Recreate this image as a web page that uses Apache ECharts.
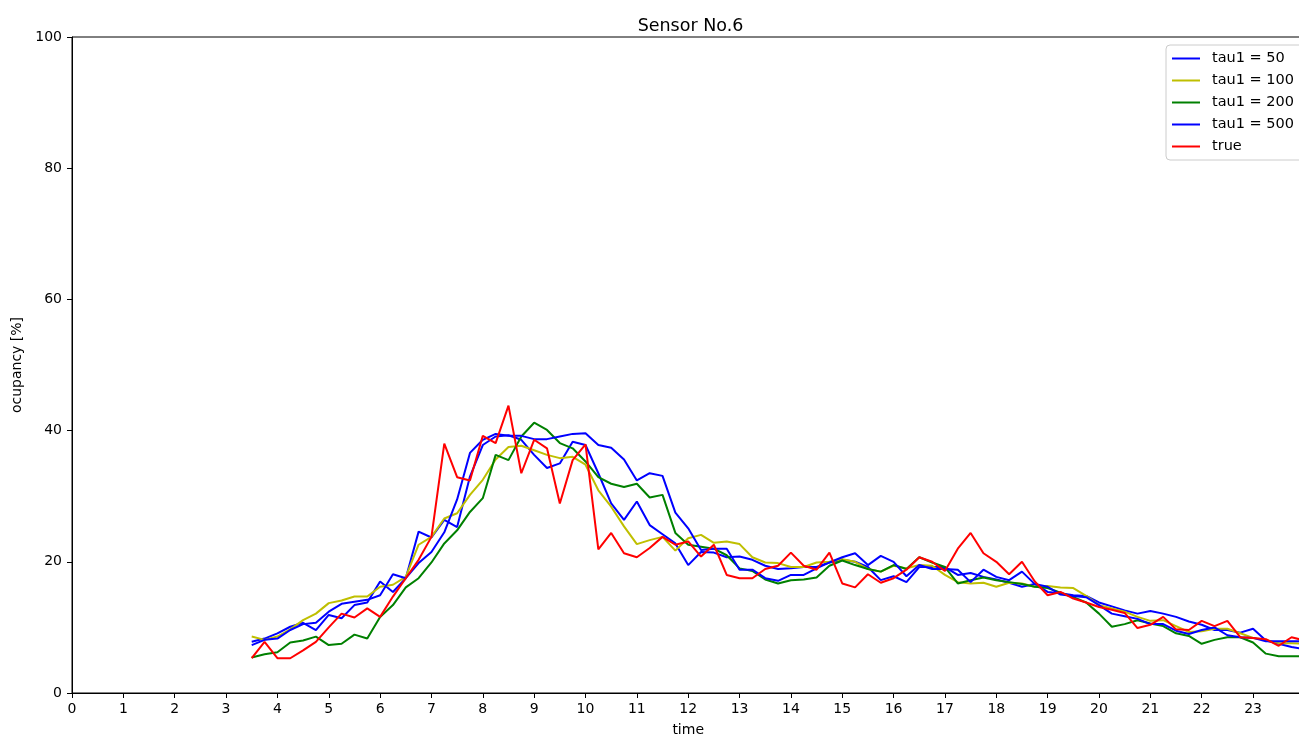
<!DOCTYPE html>
<html>
<head>
<meta charset="utf-8">
<script src="https://cdn.jsdelivr.net/npm/echarts@6/dist/echarts.min.js"></script>
<style>
html,body{margin:0;padding:0;background:#fff;}
#chart{width:1299px;height:735px;}
</style>
</head>
<body>
<div id="chart"></div>
<script>
// time of day (hours), 15-minute steps
const times = [
  3.5, 3.75,
  4, 4.25, 4.5, 4.75,
  5, 5.25, 5.5, 5.75,
  6, 6.25, 6.5, 6.75,
  7, 7.25, 7.5, 7.75,
  8, 8.25, 8.5, 8.75,
  9, 9.25, 9.5, 9.75,
  10, 10.25, 10.5, 10.75,
  11, 11.25, 11.5, 11.75,
  12, 12.25, 12.5, 12.75,
  13, 13.25, 13.5, 13.75,
  14, 14.25, 14.5, 14.75,
  15, 15.25, 15.5, 15.75,
  16, 16.25, 16.5, 16.75,
  17, 17.25, 17.5, 17.75,
  18, 18.25, 18.5, 18.75,
  19, 19.25, 19.5, 19.75,
  20, 20.25, 20.5, 20.75,
  21, 21.25, 21.5, 21.75,
  22, 22.25, 22.5, 22.75,
  23, 23.25, 23.5, 23.75,
  24
];

const tau50 = [
  7.8, 8.3,
  9.1, 10.1, 10.7, 9.6,
  11.9, 11.4, 13.4, 13.8,
  17.0, 15.4, 17.5, 24.6,
  23.7, 26.4, 25.3, 33.0,
  37.8, 39.1, 39.3, 38.6,
  36.3, 34.3, 35.0, 38.3,
  37.8, 33.5, 28.9, 26.4,
  29.2, 25.6, 24.2, 22.8,
  19.5, 21.5, 21.4, 20.7,
  20.8, 20.3, 19.4, 18.9,
  19.0, 19.2, 19.2, 19.9,
  20.3, 20.0, 19.2, 17.2,
  17.8, 16.9, 19.2, 19.2,
  19.2, 18.0, 18.3, 17.7,
  17.3, 16.8, 16.2, 16.6,
  15.4, 15.2, 14.9, 14.8,
  13.8, 13.2, 12.6, 12.1,
  12.5, 12.1, 11.6, 10.9,
  10.4, 9.6, 9.6, 9.2,
  9.8, 8.0, 7.5, 7.0,
  6.7
];

const tau100 = [
  8.6, 8.1,
  8.6, 9.7, 11.1, 12.1,
  13.7, 14.1, 14.7, 14.7,
  16.2, 16.5, 17.7, 22.6,
  23.8, 26.6, 27.4, 30.2,
  32.5, 35.6, 37.5, 37.7,
  37.0, 36.3, 35.8, 36.0,
  34.8, 30.9, 28.4, 25.4,
  22.7, 23.3, 23.8, 21.7,
  23.6, 24.1, 22.9, 23.1,
  22.7, 20.7, 19.9, 19.8,
  19.2, 19.2, 19.9, 20.0,
  20.4, 20.0, 18.9, 18.5,
  19.4, 19.0, 19.5, 19.4,
  18.0, 16.9, 16.7, 16.8,
  16.2, 16.8, 16.7, 16.2,
  16.3, 16.1, 16.0, 14.8,
  13.4, 12.9, 12.4, 11.6,
  11.0, 11.1, 10.2, 9.3,
  9.4, 9.8, 9.8, 9.1,
  8.4, 8.1, 7.6, 7.6,
  7.5
];

const tau200 = [
  5.4, 5.9,
  6.2, 7.7, 8.0, 8.6,
  7.3, 7.5, 8.9, 8.3,
  11.6, 13.4, 16.1, 17.5,
  19.9, 22.8, 24.8, 27.6,
  29.7, 36.3, 35.5, 39.1,
  41.2, 40.1, 38.1, 37.3,
  35.3, 32.9, 31.9, 31.4,
  31.9, 29.8, 30.2, 24.4,
  22.6, 22.3, 22.0, 21.0,
  19.0, 18.6, 17.3, 16.7,
  17.2, 17.3, 17.6, 19.4,
  20.2, 19.5, 18.9, 18.5,
  19.5, 18.9, 20.7, 19.9,
  19.2, 16.7, 17.2, 17.6,
  17.2, 16.9, 16.6, 16.2,
  16.0, 15.3, 14.6, 13.8,
  12.1, 10.1, 10.5, 11.1,
  10.6, 10.2, 9.1, 8.7,
  7.5, 8.1, 8.5, 8.5,
  7.7, 6.0, 5.6, 5.6,
  5.6
];

const tau500 = [
  7.3, 8.1,
  8.3, 9.6, 10.5, 10.7,
  12.4, 13.6, 13.9, 14.2,
  14.9, 18.1, 17.5, 19.8,
  21.5, 24.5, 29.5, 36.6,
  38.6, 39.5, 39.2, 39.2,
  38.7, 38.7, 39.1, 39.5,
  39.6, 37.8, 37.4, 35.6,
  32.4, 33.5, 33.1, 27.5,
  25.1, 21.8, 22.0, 22.0,
  18.8, 18.8, 17.5, 17.1,
  18.0, 18.0, 19.0, 19.9,
  20.7, 21.3, 19.5, 20.9,
  20.0, 17.8, 19.5, 18.9,
  18.9, 18.8, 16.9, 18.8,
  17.7, 17.2, 18.5, 16.6,
  16.2, 15.0, 14.8, 14.6,
  13.4, 12.1, 11.7, 11.3,
  10.5, 10.5, 9.5, 9.0,
  9.6, 10.0, 8.8, 8.5,
  8.4, 7.9, 7.9, 7.9,
  7.9
];

const trueVals = [
  5.3, 7.8,
  5.3, 5.3, 6.5, 7.8,
  10.0, 12.1, 11.5, 12.9,
  11.6, 14.7, 17.5, 20.3,
  23.8, 38.0, 32.9, 32.4,
  39.2, 38.1, 43.8, 33.5,
  38.6, 37.3, 28.9, 35.5,
  37.9, 21.9, 24.4, 21.3,
  20.7, 22.1, 23.8, 22.6,
  23.1, 20.8, 22.6, 18.0,
  17.5, 17.5, 18.9, 19.4,
  21.4, 19.4, 18.8, 21.4,
  16.7, 16.1, 18.1, 16.8,
  17.5, 18.8, 20.7, 20.0,
  18.6, 22.0, 24.4, 21.3,
  20.0, 18.1, 20.0, 17.0,
  14.9, 15.4, 14.4, 13.8,
  13.1, 12.7, 12.2, 9.9,
  10.4, 11.6, 9.7, 9.6,
  11.0, 10.2, 11.0, 8.5,
  8.4, 8.2, 7.2, 8.5,
  8.0
];

const seriesNames = ['tau1 = 50', 'tau1 = 100', 'tau1 = 200', 'tau1 = 500', 'true'];
const seriesColors = ['#0000ff', '#bfbf00', '#008000', '#0000ff', '#ff0000'];
const seriesValues = [tau50, tau100, tau200, tau500, trueVals];
const xTicks = [0,1,2,3,4,5,6,7,8,9,10,11,12,13,14,15,16,17,18,19,20,21,22,23];

const FONT = 'DejaVu Sans';
const chart = echarts.init(document.getElementById('chart'), null, {renderer: 'canvas'});

const series = seriesNames.map((name, k) => ({
  name: name,
  type: 'line',
  data: times.map((t, i) => [t, seriesValues[k][i]]),
  symbol: 'none',
  showSymbol: false,
  smooth: false,
  clip: true,
  lineStyle: {color: seriesColors[k], width: 2},
  itemStyle: {color: seriesColors[k]},
  emphasis: {disabled: true},
  z: 2 + k
}));

chart.setOption({
  animation: false,
  backgroundColor: '#ffffff',
  textStyle: {fontFamily: FONT},
  title: {
    text: 'Sensor No.6',
    left: 685.5,
    textAlign: 'center',
    top: 12,
    textStyle: {fontFamily: FONT, fontSize: 17.5, fontWeight: 'normal', color: '#000'}
  },
  legend: {
    orient: 'vertical',
    left: 1166,
    top: 45,
    data: seriesNames,
    icon: 'rect',
    itemWidth: 28,
    itemHeight: 2,
    itemGap: 7,
    padding: [6, 40, 6, 6],
    borderColor: '#cccccc',
    borderWidth: 1,
    borderRadius: 4,
    backgroundColor: '#ffffff',
    selectedMode: false,
    textStyle: {fontFamily: FONT, fontSize: 14.5, color: '#000', padding: [0, 0, 0, 7]}
  },
  grid: {
    left: 72,
    top: 37,
    width: 1232.4,
    height: 656,
    outerBoundsMode: 'none',
    show: true,
    borderColor: '#000',
    borderWidth: 1,
    backgroundColor: 'transparent',
    containLabel: false
  },
  xAxis: {
    type: 'value',
    min: 0,
    max: 24,
    interval: 1,
    name: 'time',
    nameLocation: 'middle',
    nameGap: 30,
    nameTextStyle: {fontFamily: FONT, fontSize: 14, color: '#000'},
    splitLine: {show: false},
    axisLine: {show: true, lineStyle: {color: '#000', width: 1}},
    axisTick: {show: true, length: 5, lineStyle: {color: '#000'}, customValues: xTicks},
    axisLabel: {
      fontFamily: FONT, fontSize: 14, color: '#000', margin: 9,
      customValues: xTicks,
      formatter: v => String(v)
    }
  },
  yAxis: {
    type: 'value',
    min: 0,
    max: 100,
    interval: 20,
    name: 'ocupancy [%]',
    nameLocation: 'middle',
    nameGap: 48,
    nameRotate: 90,
    nameTextStyle: {fontFamily: FONT, fontSize: 14, color: '#000'},
    splitLine: {show: false},
    axisLine: {show: true, lineStyle: {color: '#000', width: 1}},
    axisTick: {show: true, length: 5, lineStyle: {color: '#000'}},
    axisLabel: {fontFamily: FONT, fontSize: 14, color: '#000', margin: 10}
  },
  series: series
});
</script>
</body>
</html>
